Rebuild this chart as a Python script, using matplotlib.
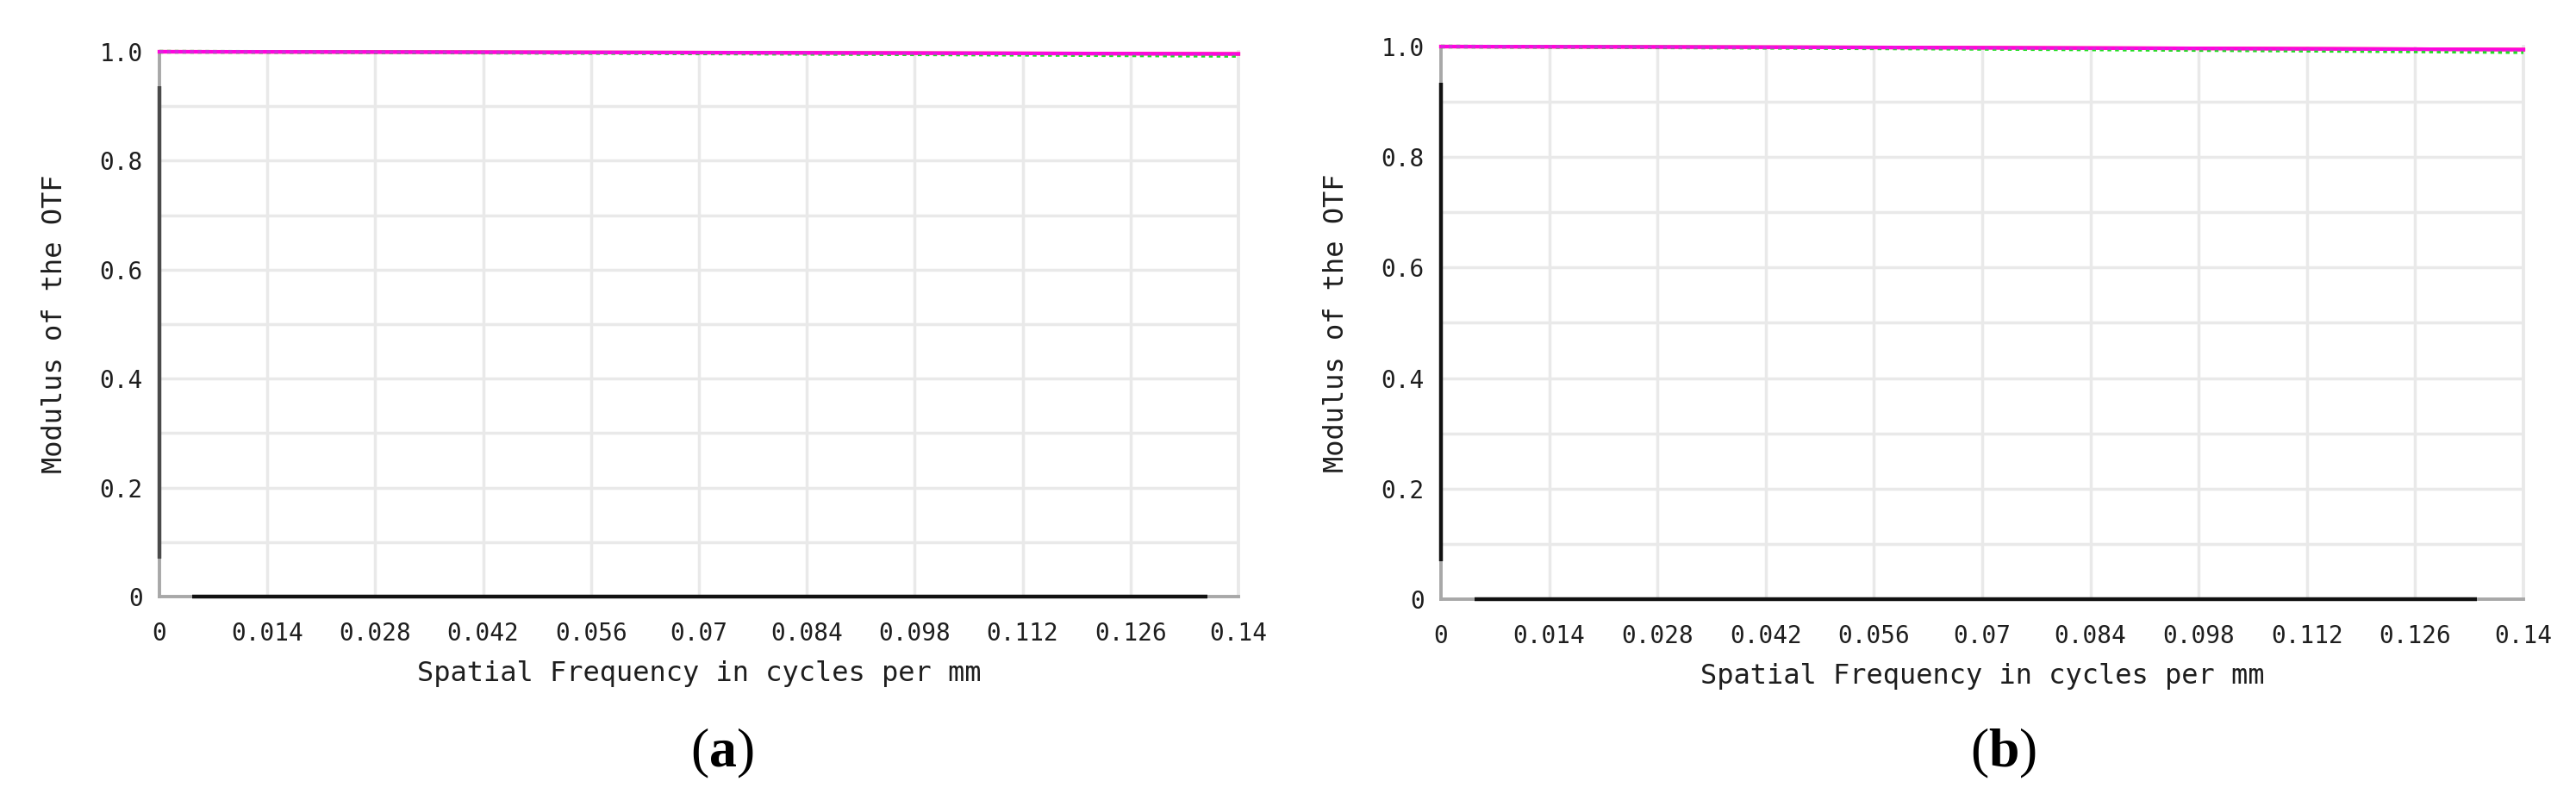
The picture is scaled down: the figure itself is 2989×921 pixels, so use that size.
import matplotlib
matplotlib.use("Agg")
import matplotlib.pyplot as plt
import numpy as np

plt.rcParams["mathtext.fontset"] = "custom"
plt.rcParams["mathtext.rm"] = "Liberation Serif"
plt.rcParams["mathtext.bf"] = "Liberation Serif:bold"

# ---------------- data ----------------
freq = [0.0, 0.014, 0.028, 0.042, 0.056, 0.07, 0.084, 0.098, 0.112, 0.126, 0.14]
xtick_vals = [0, 0.014, 0.028, 0.042, 0.056, 0.07, 0.084, 0.098, 0.112, 0.126, 0.14]
xtick_labels = ["0", "0.014", "0.028", "0.042", "0.056", "0.07", "0.084", "0.098", "0.112", "0.126", "0.14"]
ytick_vals = [0, 0.2, 0.4, 0.6, 0.8, 1.0]
ytick_labels = ["0", "0.2", "0.4", "0.6", "0.8", "1.0"]
ygrid_vals = [0.1, 0.2, 0.3, 0.4, 0.5, 0.6, 0.7, 0.8, 0.9]

# panel (a) MTF curves
a_red = [1.0, 0.9998, 0.9995, 0.9992, 0.9988, 0.9984, 0.998, 0.9975, 0.997, 0.9965, 0.996]
a_magenta = [1.0, 0.9998, 0.9995, 0.9992, 0.9988, 0.9984, 0.998, 0.9975, 0.997, 0.9965, 0.996]
a_green = [1.0, 0.9996, 0.9991, 0.9985, 0.9978, 0.9971, 0.9963, 0.9955, 0.9946, 0.9936, 0.9925]
# panel (b) MTF curves
b_red = [1.0, 0.9997, 0.9993, 0.9989, 0.9984, 0.9979, 0.9973, 0.9967, 0.996, 0.9953, 0.9945]
b_magenta = [1.0, 0.9997, 0.9993, 0.9989, 0.9984, 0.9979, 0.9973, 0.9967, 0.996, 0.9953, 0.9945]
b_green = [1.0, 0.9994, 0.9987, 0.9979, 0.997, 0.996, 0.995, 0.9939, 0.9927, 0.9914, 0.99]

# dark frame segments (Zemax plot frame)
a_xaxis_dark = [0.0043, 0.136]
a_yaxis_dark = [0.07, 0.937]
b_xaxis_dark = [0.0043, 0.134]
b_yaxis_dark = [0.069, 0.934]

panel_labels = ["a", "b"]

FONT = "DejaVu Sans Mono"
TXT = "#1e1e1e"
GRID = "#e9e9e9"
SPINE = "#a8a8a8"

fig = plt.figure(figsize=(29.89, 9.21), dpi=100)

positions = [
    [185 / 2989, 1 - 692 / 921, 1252 / 2989, 632 / 921],
    [1672 / 2989, 1 - 695 / 921, 1256 / 2989, 641 / 921],
]
curves = [(a_red, a_magenta, a_green), (b_red, b_magenta, b_green)]
darks = [(a_xaxis_dark, a_yaxis_dark, "#4a4a4a"), (b_xaxis_dark, b_yaxis_dark, "#111111")]
label_x = [838 / 2989, 2325 / 2989]

for i, pos in enumerate(positions):
    ax = fig.add_axes(pos)
    ax.set_xlim(0, 0.14)
    ax.set_ylim(0, 1.0)
    # grid
    for xv in xtick_vals[1:]:
        ax.axvline(xv, color=GRID, lw=2.5, zorder=0)
    for yv in ygrid_vals:
        ax.axhline(yv, color=GRID, lw=2.5, zorder=0)
    # spines
    ax.spines["top"].set_visible(False)
    for s in ["left", "bottom", "right"]:
        ax.spines[s].set_color(SPINE if s != "right" else GRID)
        ax.spines[s].set_linewidth(2.8)
    # dark frame parts
    xd, yd, dc = darks[i]
    ax.plot(xd, [0, 0], color="#111111", lw=3.2, solid_capstyle="butt", clip_on=False, zorder=3)
    ax.plot([0, 0], yd, color=dc, lw=3.2, solid_capstyle="butt", clip_on=False, zorder=3)
    # curves
    r, m, g = curves[i]
    ax.plot(freq, r, color="#ff2020", lw=3.0, clip_on=False, zorder=4)
    ax.plot(freq, g, color="#22dd22", lw=3.2, ls=(0, (1, 1)), clip_on=False, zorder=5)
    ax.plot(freq, m, color="#ff00ff", lw=3.0, clip_on=False, zorder=6, alpha=0.85)

    ax.set_xticks(xtick_vals)
    ax.set_xticklabels(xtick_labels)
    ax.set_yticks(ytick_vals)
    ax.set_yticklabels(ytick_labels)
    ax.tick_params(axis="both", length=0, labelsize=20, colors=TXT)
    ax.tick_params(axis="x", pad=21)
    ax.tick_params(axis="y", pad=14)
    for t in ax.get_xticklabels() + ax.get_yticklabels():
        t.set_fontfamily(FONT)
    ax.set_xlabel("Spatial Frequency in cycles per mm", fontsize=23, family=FONT,
                  color=TXT, labelpad=12)
    ax.set_ylabel("Modulus of the OTF", fontsize=23, family=FONT, color=TXT, labelpad=26)

    fig.text(label_x[i], 1 - 874 / 921, "($\\mathbf{" + panel_labels[i] + "}$)",
             fontsize=46, family="Liberation Serif", ha="center", va="center", color="black")

fig.savefig("out.png", dpi=100, facecolor="white")
